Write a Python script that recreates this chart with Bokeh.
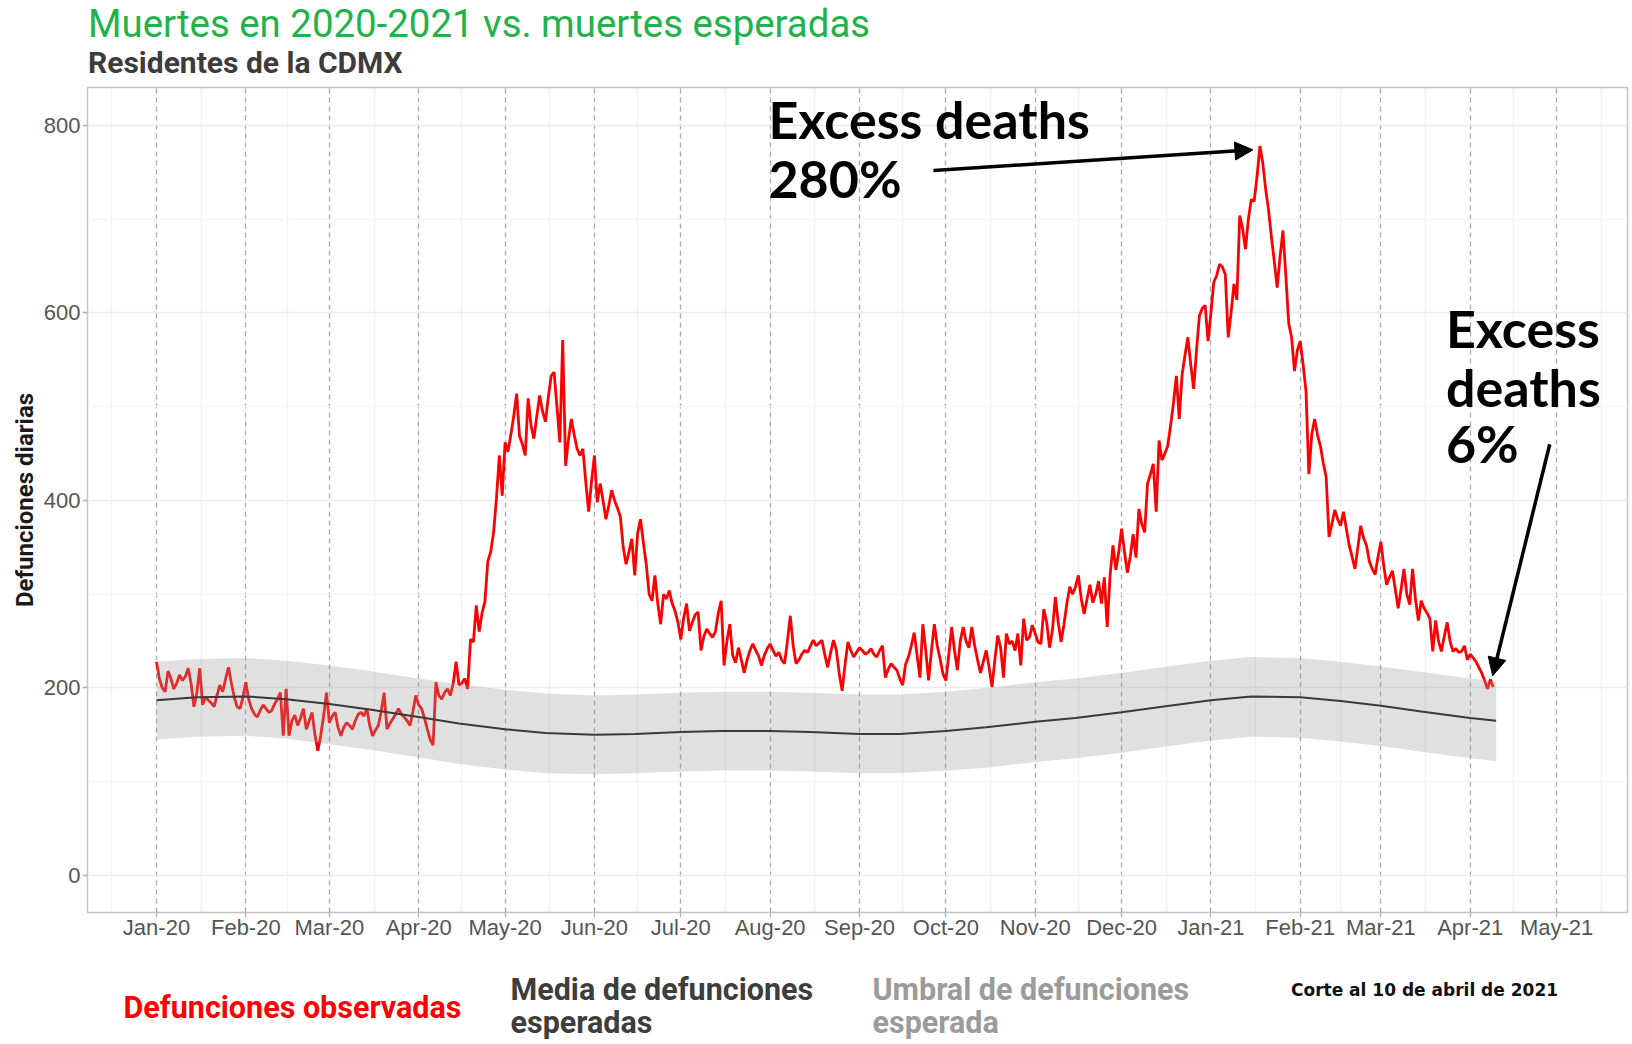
import pandas as pd
from bokeh.plotting import figure
from bokeh.layouts import column
from bokeh.models import (Range1d, FixedTicker, DatetimeTickFormatter,
                          Arrow, NormalHead)
from bokeh.core.properties import value
from bokeh.embed import file_html
from bokeh.resources import INLINE

# ---------------- data ----------------
obs_start = "2020-01-01"
observed = [
    228, 210, 200, 196, 218, 210, 199, 205, 214, 208,
    212, 221, 205, 180, 195, 221, 182, 190, 187, 184,
    180, 192, 203, 196, 210, 222, 205, 190, 180, 178,
    190, 206, 188, 178, 172, 169, 176, 182, 178, 174,
    176, 183, 188, 195, 149, 199, 149, 165, 171, 160,
    168, 178, 156, 165, 174, 150, 133, 149, 170, 195,
    163, 170, 174, 158, 149, 158, 163, 160, 156, 165,
    172, 174, 170, 178, 160, 149, 155, 160, 175, 195,
    156, 162, 167, 172, 178, 172, 169, 165, 160, 175,
    192, 182, 178, 168, 156, 145, 139, 206, 192, 188,
    195, 199, 192, 205, 228, 203, 205, 210, 199, 252,
    249, 288, 260, 280, 292, 335, 345, 366, 402, 448,
    405, 462, 452, 470, 490, 514, 469, 460, 448, 509,
    480, 466, 490, 512, 495, 484, 510, 533, 537, 500,
    462, 571, 437, 465, 487, 470, 455, 448, 455, 420,
    388, 420, 448, 398, 418, 400, 380, 395, 411, 400,
    392, 383, 350, 332, 345, 359, 320, 365, 380, 355,
    332, 300, 293, 320, 290, 268, 300, 295, 304, 290,
    282, 270, 252, 275, 290, 261, 270, 278, 281, 240,
    255, 263, 258, 254, 260, 280, 293, 224, 250, 268,
    235, 227, 243, 230, 216, 230, 240, 247, 240, 234,
    224, 235, 242, 247, 240, 234, 238, 230, 226, 250,
    277, 245, 226, 230, 236, 240, 238, 245, 251, 245,
    248, 251, 235, 222, 238, 251, 240, 215, 197, 225,
    249, 240, 233, 238, 243, 240, 236, 238, 242, 236,
    233, 240, 245, 211, 220, 226, 222, 219, 210, 203,
    225, 233, 245, 259, 235, 211, 268, 240, 208, 240,
    268, 245, 231, 215, 208, 235, 265, 240, 219, 250,
    265, 250, 243, 265, 245, 230, 216, 228, 240, 222,
    201, 230, 256, 243, 211, 258, 247, 250, 240, 258,
    224, 274, 251, 254, 267, 258, 249, 247, 284, 270,
    243, 262, 297, 270, 249, 268, 290, 308, 300, 308,
    320, 295, 279, 295, 310, 291, 300, 314, 290, 318,
    265, 320, 352, 326, 345, 370, 345, 323, 340, 364,
    339, 391, 375, 366, 418, 428, 439, 388, 464, 443,
    450, 458, 480, 504, 533, 487, 534, 555, 574, 545,
    519, 560, 597, 605, 608, 570, 600, 633, 640, 652,
    649, 641, 574, 600, 631, 614, 704, 690, 668, 700,
    721, 719, 745, 778, 760, 732, 710, 681, 655, 627,
    660, 688, 640, 589, 574, 538, 560, 570, 545, 517,
    428, 470, 487, 470, 458, 440, 425, 361, 375, 390,
    380, 373, 388, 370, 352, 340, 327, 350, 373, 360,
    352, 335, 327, 321, 340, 356, 330, 310, 318, 325,
    305, 285, 305, 327, 300, 289, 327, 295, 272, 293,
    285, 280, 274, 239, 272, 250, 239, 255, 270, 250,
    239, 242, 238, 239, 245, 230, 236, 232, 228, 222,
    216, 208, 199, 209, 201,
]

exp_dates = ["2020-01-01", "2020-01-15", "2020-02-01", "2020-02-15", "2020-03-01",
             "2020-03-15", "2020-04-01", "2020-04-15", "2020-05-01", "2020-05-15",
             "2020-06-01", "2020-06-15", "2020-07-01", "2020-07-15", "2020-08-01",
             "2020-08-15", "2020-09-01", "2020-09-15", "2020-10-01", "2020-10-15",
             "2020-11-01", "2020-11-15", "2020-12-01", "2020-12-15", "2021-01-01",
             "2021-01-15", "2021-02-01", "2021-02-15", "2021-03-01", "2021-03-15",
             "2021-04-01", "2021-04-10"]
exp_mean = [187, 190, 191, 188, 183, 177, 169, 162, 156, 152, 150, 151, 153, 154, 154,
            153, 151, 151, 154, 158, 164, 168, 174, 180, 187, 191, 190, 186, 181, 175,
            168, 165]
exp_low = [145, 148, 149, 146, 140, 134, 126, 119, 113, 109, 108, 109, 111, 112, 112,
           111, 109, 109, 112, 115, 121, 125, 131, 137, 144, 148, 147, 143, 138, 132,
           125, 122]
exp_high = [228, 231, 232, 229, 224, 218, 210, 204, 198, 194, 192, 193, 195, 196, 196,
            195, 193, 193, 196, 200, 206, 210, 216, 222, 229, 233, 232, 228, 223, 217,
            210, 207]

month_ticks = ["2020-01-01", "2020-02-01", "2020-03-01", "2020-04-01", "2020-05-01",
               "2020-06-01", "2020-07-01", "2020-08-01", "2020-09-01", "2020-10-01",
               "2020-11-01", "2020-12-01", "2021-01-01", "2021-02-01", "2021-03-01",
               "2021-04-01", "2021-05-01"]
y_ticks = [0, 200, 400, 600, 800]
y_minor = [100, 300, 500, 700]

title_text = "Muertes en 2020-2021 vs. muertes esperadas"
subtitle_text = "Residentes de la CDMX"
y_label = "Defunciones diarias"
note_peak = ["Excess deaths", "280%"]
note_end = ["Excess", "deaths", "6%"]
legend_obs = "Defunciones observadas"
legend_mean = ["Media de defunciones", "esperadas"]
legend_band = ["Umbral de defunciones", "esperada"]
cutoff_note = "Corte al 10 de abril de 2021"

# ---------------- helpers ----------------
DAY = 86400000.0
W = 1630
H = 1044
LEFT, RIGHT = 87, 3            # frame borders of the main plot (px)
BASE_SHIFT = 0.41              # baseline correction, in em


def ms(s):
    return pd.Timestamp(s).value / 1e6


obs_x = pd.date_range(obs_start, periods=len(observed), freq="D")
exp_x = pd.to_datetime(exp_dates)
base = ms(obs_start)

tick_ms = [ms(t) for t in month_ticks]
minor_ms = [(a + b) / 2 for a, b in zip(tick_ms[:-1], tick_ms[1:])]
minor_ms = [tick_ms[0] - 15.5 * DAY] + minor_ms + [tick_ms[-1] + 15.5 * DAY]


def text_fig(h):
    # frames of a column are aligned with the main plot frame -> page pixels
    f = figure(width=W, height=h, x_range=Range1d(LEFT, W - RIGHT),
               y_range=Range1d(h, 0), x_axis_type=None, y_axis_type=None,
               min_border=0, output_backend="svg", toolbar_location=None)
    f.outline_line_color = None
    f.background_fill_color = "white"
    f.border_fill_color = "white"
    return f


def put(f, x, y, txt, size, color, font="Roboto", style="bold"):
    f.text(x=[x], y=[y - BASE_SHIFT * size], text=[txt], text_font=value(font),
           text_font_style=style, text_font_size=f"{size}px", text_color=color,
           text_baseline="alphabetic", text_align="left")


# ---------------- header ----------------
TOP_H = 85
ph = text_fig(TOP_H)
put(ph, 87.5, 39, title_text, 38.4, "#22b24c", style="normal")
put(ph, 87.5, 74, subtitle_text, 30, "#3c3c3c")

# ---------------- main plot ----------------
MAIN_H = 872
p = figure(width=W, height=MAIN_H, x_axis_type="datetime",
           output_backend="svg", toolbar_location=None,
           min_border_left=LEFT, min_border_right=RIGHT, min_border_top=2,
           min_border_bottom=45,
           x_range=Range1d(base - 23.95 * DAY, base + 510.6 * DAY),
           y_range=Range1d(-39.5, 840.5))
p.background_fill_color = "white"
p.border_fill_color = "white"
p.outline_line_color = "#c4c4c4"
p.outline_line_width = 1.5

p.xaxis.ticker = FixedTicker(ticks=tick_ms, minor_ticks=minor_ms)
fmt = "%b-%y"
p.xaxis.formatter = DatetimeTickFormatter(days=fmt, months=fmt, years=fmt,
                                          hours=fmt, minutes=fmt, seconds=fmt)
p.yaxis.ticker = FixedTicker(ticks=y_ticks, minor_ticks=y_minor)
for ax in (p.xaxis, p.yaxis):
    ax.axis_line_color = None
    ax.minor_tick_line_color = None
    ax.major_tick_line_color = "#b5b5b5"
    ax.major_tick_line_width = 1.3
    ax.major_tick_out = 5
    ax.major_tick_in = 0
    ax.major_label_text_font = "Liberation Sans"
    ax.major_label_text_font_size = "22px"
    ax.major_label_text_color = "#555555"
p.xaxis.major_label_standoff = -3
p.yaxis.major_label_standoff = 2
p.yaxis.axis_label = y_label
p.yaxis.axis_label_text_font = "Roboto"
p.yaxis.axis_label_text_font_style = "bold"
p.yaxis.axis_label_text_font_size = "24px"
p.yaxis.axis_label_text_color = "#1a1a1a"
p.yaxis.axis_label_standoff = 2

p.xgrid.grid_line_color = "#a9a9a9"
p.xgrid.grid_line_dash = "5 4"
p.xgrid.grid_line_width = 1.3
p.xgrid.minor_grid_line_color = "#f1f1f1"
p.xgrid.minor_grid_line_width = 1.3
p.ygrid.grid_line_color = "#ebebeb"
p.ygrid.grid_line_width = 1.5
p.ygrid.minor_grid_line_color = "#f5f5f5"
p.ygrid.minor_grid_line_width = 1.3

p.line(obs_x, observed, line_color="#ff0000", line_width=2.8)
p.varea(x=exp_x, y1=exp_low, y2=exp_high, fill_color="#999999", fill_alpha=0.3)
p.line(exp_x, exp_mean, line_color="#3a3a3a", line_width=2)

# annotations (y in data units, baseline corrected)
PX = 0.9375          # pixels per death on the y axis
ann_shift = BASE_SHIFT * 52 / PX
peak_x = [pd.Timestamp("2020-07-31 10:00")] * 2
p.text(x=peak_x, y=[784.4 + ann_shift, 721.3 + ann_shift], text=note_peak,
       text_font=value("Lato"), text_font_style="bold", text_font_size="52px",
       text_color="black", text_baseline="alphabetic", text_align="left")
end_x = [pd.Timestamp("2021-03-23 14:00")] * 3
p.text(x=end_x, y=[561 + ann_shift, 498.7 + ann_shift, 439 + ann_shift],
       text=note_end, text_font=value("Lato"), text_font_style="bold",
       text_font_size="52px", text_color="black", text_baseline="alphabetic",
       text_align="left")

p.add_layout(Arrow(end=NormalHead(size=18, fill_color="black", line_color="black"),
                   x_start=base + 269.7 * DAY, y_start=752,
                   x_end=base + 380.6 * DAY, y_end=774,
                   line_width=3.5, line_color="black"))
p.add_layout(Arrow(end=NormalHead(size=18, fill_color="black", line_color="black"),
                   x_start=base + 483.6 * DAY, y_start=460,
                   x_end=base + 463.8 * DAY, y_end=213,
                   line_width=3.5, line_color="black"))

# ---------------- footer ----------------
FOOT_TOP = TOP_H + MAIN_H
pb = text_fig(H - FOOT_TOP)
put(pb, 123, 1020 - FOOT_TOP, legend_obs, 30.5, "#ff0000")
put(pb, 510, 1002 - FOOT_TOP, legend_mean[0], 30.5, "#3d3d3d")
put(pb, 510, 1035 - FOOT_TOP, legend_mean[1], 30.5, "#3d3d3d")
put(pb, 872, 1002 - FOOT_TOP, legend_band[0], 30.5, "#9b9b9b")
put(pb, 872, 1035 - FOOT_TOP, legend_band[1], 30.5, "#9b9b9b")
put(pb, 1290.5, 996.5 - FOOT_TOP, cutoff_note, 17, "#111111", font="DejaVu Sans")

layout = column(ph, p, pb, spacing=0)
open("out.html", "w").write(file_html(layout, INLINE))
